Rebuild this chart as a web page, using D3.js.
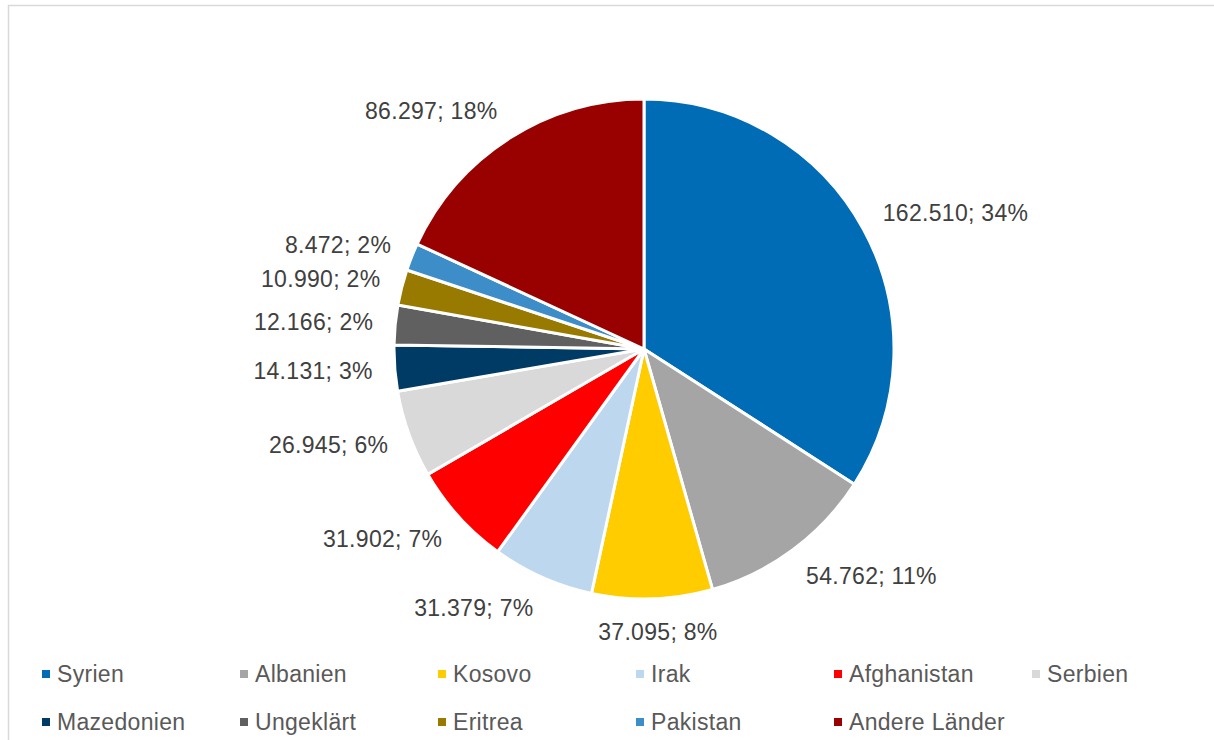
<!DOCTYPE html>
<html><head><meta charset="utf-8">
<script src="https://cdn.jsdelivr.net/npm/d3@7"></script>
<style>
html,body{margin:0;padding:0;background:#fff;}
svg{display:block;font-family:"Liberation Sans",Arial,sans-serif;}
</style></head>
<body>
<svg id="c" width="1214" height="740"></svg>
<script>
const categories = ["Syrien","Albanien","Kosovo","Irak","Afghanistan","Serbien","Mazedonien","Ungeklärt","Eritrea","Pakistan","Andere Länder"];
const values = [162510,54762,37095,31379,31902,26945,14131,12166,10990,8472,86297];
const percentLabels = [34,11,8,7,7,6,3,2,2,2,18];
const colors = ["#006CB5","#A5A5A5","#FFCC00","#BDD7EE","#FF0000","#D9D9D9","#003B66","#606060","#997A00","#3C8DC8","#990000"];

const W = 1214, H = 740;
const svg = d3.select("#c");
svg.append("rect").attr("x",8.5).attr("y",5.5).attr("width",W+10).attr("height",H+10)
  .attr("fill","#fff").attr("stroke","#d9d9d9").attr("stroke-width",1.5);

const cx = 644, cy = 349, R = 250;
const data = categories.map((c,i)=>({name:c,value:values[i],pct:percentLabels[i],color:colors[i]}));
const pie = d3.pie().value(d=>d.value).sort(null).startAngle(0).endAngle(2*Math.PI);
const arcs = pie(data);
const arc = d3.arc().innerRadius(0).outerRadius(R);

const g = svg.append("g").attr("transform",`translate(${cx},${cy})`);
g.selectAll("path").data(arcs).join("path")
  .attr("d",arc).attr("fill",d=>d.data.color)
  .attr("stroke","#fff").attr("stroke-width",3).attr("stroke-linejoin","round");

const fmt = d3.formatLocale({decimal:",",thousands:".",grouping:[3],currency:["","€"]}).format(",d");
const lblR = R + 22, hh = 11;
g.selectAll("text.lbl").data(arcs).join("text")
  .attr("class","lbl")
  .attr("font-size",23).attr("letter-spacing",0.3).attr("fill","#404040")
  .attr("text-anchor","middle").attr("dy","0.35em")
  .text(d=>fmt(d.data.value)+"; "+d.data.pct+"%")
  .each(function(d){
    const a = (d.startAngle+d.endAngle)/2;
    const ux = Math.sin(a), uy = -Math.cos(a);
    const hw = this.getComputedTextLength()/2;
    const sx = Math.max(-1, Math.min(1, ux*2.5));
    const x = lblR*ux + sx*hw;
    const y = lblR*uy + uy*hh;
    d3.select(this).attr("x",x).attr("y",y);
  });

// legend
const lg = svg.append("g");
const colW = 198, x0 = 42, rowY = [674, 722];
data.forEach((d,i)=>{
  const col = i % 6, row = Math.floor(i/6);
  const x = x0 + col*colW, y = rowY[row];
  lg.append("rect").attr("x",x).attr("y",y-4).attr("width",8).attr("height",8).attr("fill",d.color);
  lg.append("text").attr("x",x+15).attr("y",y).attr("dy","0.35em")
    .attr("font-size",23).attr("letter-spacing",0.3).attr("fill","#595959").text(d.name);
});
</script>
</body></html>
